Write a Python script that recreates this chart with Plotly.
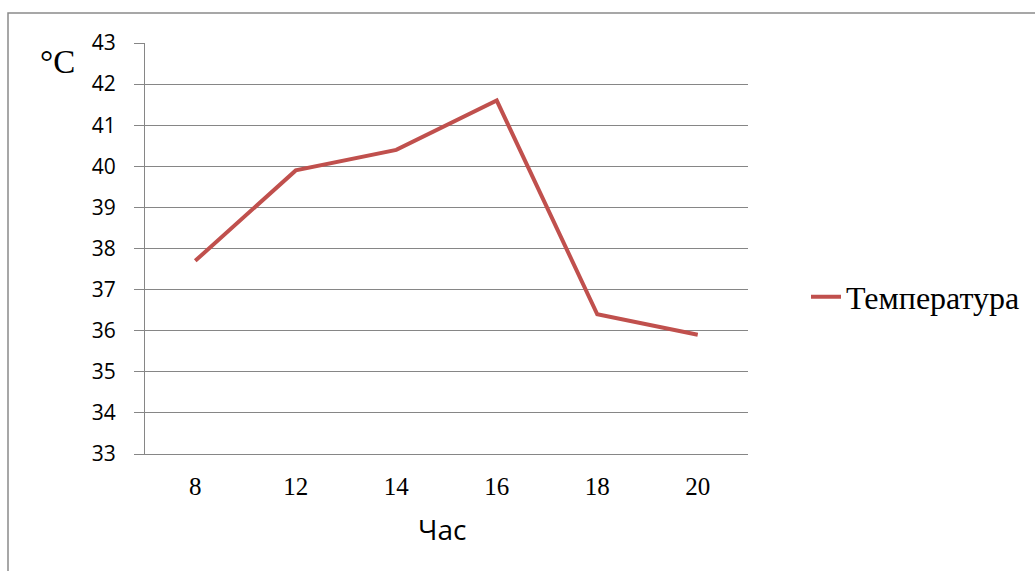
import plotly.graph_objects as go

# Hourly temperature readings
hours = ["8", "12", "14", "16", "18", "20"]
temperature = [37.7, 39.9, 40.4, 41.6, 36.4, 35.9]
series_name = "Температура"
x_title = "Час"
y_unit = "°C"

W, H = 1035, 571
L, R, T, B = 145, 287, 43, 117
pw, ph = W - L - R, H - T - B

def px_x(p):
    return (p - L) / pw

def px_y(p):
    return (H - B - p) / ph

grid = "#868686"

fig = go.Figure()
fig.add_trace(go.Scatter(
    x=hours, y=temperature, mode="lines", name=series_name,
    line=dict(color="#C0504D", width=4),
))

fig.update_layout(
    width=W, height=H,
    margin=dict(l=L, r=R, t=T, b=B, pad=0, autoexpand=False),
    paper_bgcolor="white", plot_bgcolor="white",
    showlegend=True,
    legend=dict(
        x=px_x(806), y=px_y(297), xanchor="left", yanchor="middle",
        font=dict(family="Liberation Serif", size=32, color="black"),
        bgcolor="rgba(0,0,0,0)",
    ),
    xaxis=dict(
        type="category", range=[-0.5, 5.5],
        showgrid=False, showline=True, linecolor=grid, linewidth=1,
        ticks="", ticklabelstandoff=10,
        tickfont=dict(family="Liberation Serif", size=25, color="black"),
        zeroline=False,
    ),
    yaxis=dict(
        range=[33, 43], dtick=1, tick0=33,
        showgrid=True, gridcolor=grid, gridwidth=1,
        showline=True, linecolor=grid, linewidth=1,
        ticks="outside", ticklen=10, tickcolor=grid, tickwidth=1,
        ticklabelstandoff=14,
        tickfont=dict(family="Open Sans", size=21, color="black"),
        zeroline=False,
    ),
    shapes=[dict(
        type="rect", xref="paper", yref="paper",
        x0=px_x(8), x1=px_x(1045), y0=px_y(585), y1=px_y(13),
        line=dict(color="#8a8a8a", width=1.5), layer="below",
    )],
    annotations=[
        dict(text=x_title, xref="paper", yref="paper",
             x=px_x(442), y=px_y(529), xanchor="center", yanchor="middle",
             showarrow=False, font=dict(family="Open Sans", size=28, color="black")),
        dict(text=y_unit, xref="paper", yref="paper",
             x=px_x(57), y=px_y(62), xanchor="center", yanchor="middle",
             showarrow=False, font=dict(family="Liberation Serif", size=33, color="black")),
    ],
)

fig.write_html("out.html")
